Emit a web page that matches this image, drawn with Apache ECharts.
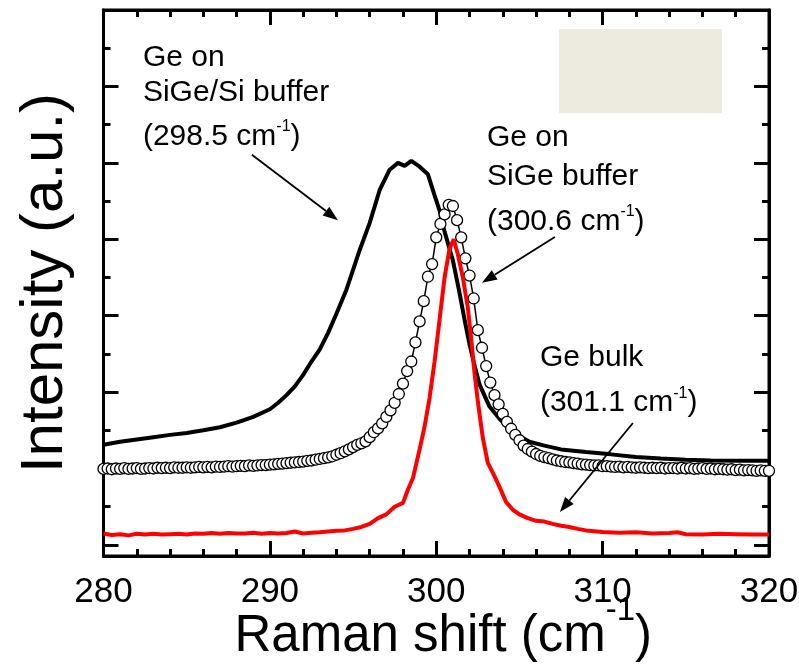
<!DOCTYPE html>
<html><head><meta charset="utf-8">
<script src="https://cdn.jsdelivr.net/npm/echarts@6/dist/echarts.min.js"></script>
<style>html,body{margin:0;padding:0;background:#fff}#c{width:799px;height:669px}</style>
</head><body><div id="c"></div>
<script>
// ---------- data ----------
const xTickLabels = ['280', '290', '300', '310', '320'];
const xMajorTicks = [280, 290, 300, 310, 320];
const yMajorTicks = [0, 2, 4, 6, 8, 10, 12, 14];
const yMinorTicks = [1, 3, 5, 7, 9, 11, 13];

// Ge on SiGe/Si buffer (black line)
const blackShift = [280,281,282,283,284,285,286,287,288,289,290,290.5,291,291.5,292,292.5,293,293.5,294,294.6,295,295.4,296,296.6,297.2,297.7,298.1,298.5,299,299.5,299.9,300.2,300.5,301,301.35,301.7,302,302.3,302.6,303.2,303.8,304.6,305.6,306.5,307.5,309,310.5,312,313.5,315,316.5,318,320];
const blackIntensity = [2.62,2.70,2.76,2.82,2.88,2.93,3.00,3.08,3.20,3.35,3.55,3.72,3.92,4.15,4.45,4.80,5.12,5.55,6.05,6.68,7.20,7.72,8.43,9.29,9.82,10.0,9.92,10.05,9.90,9.70,9.15,8.75,8.20,7.45,6.70,5.90,5.25,4.70,4.20,3.62,3.30,2.95,2.70,2.60,2.50,2.43,2.37,2.30,2.26,2.23,2.21,2.20,2.20];

// Ge on SiGe buffer (open circles)
const circleShift = [280.00,280.25,280.50,280.75,281.00,281.25,281.50,281.75,282.00,282.25,282.50,282.75,283.00,283.25,283.50,283.75,284.00,284.25,284.50,284.75,285.00,285.25,285.50,285.75,286.00,286.25,286.50,286.75,287.00,287.25,287.50,287.75,288.00,288.25,288.50,288.75,289.00,289.25,289.50,289.75,290.00,290.25,290.50,290.75,291.00,291.25,291.50,291.75,292.00,292.25,292.50,292.75,293.00,293.25,293.50,293.75,294.00,294.25,294.50,294.75,295.00,295.25,295.50,295.75,296.00,296.25,296.50,296.75,297.00,297.25,297.50,297.75,298.00,298.25,298.50,298.75,299.00,299.25,299.50,299.75,300.00,300.25,300.50,300.75,301.00,301.25,301.50,301.75,302.00,302.25,302.50,302.75,303.00,303.25,303.50,303.75,304.00,304.25,304.50,304.75,305.00,305.25,305.50,305.75,306.00,306.25,306.50,306.75,307.00,307.25,307.50,307.75,308.00,308.25,308.50,308.75,309.00,309.25,309.50,309.75,310.00,310.25,310.50,310.75,311.00,311.25,311.50,311.75,312.00,312.25,312.50,312.75,313.00,313.25,313.50,313.75,314.00,314.25,314.50,314.75,315.00,315.25,315.50,315.75,316.00,316.25,316.50,316.75,317.00,317.25,317.50,317.75,318.00,318.25,318.50,318.75,319.00,319.25,319.50,319.75,320.00];
const circleIntensity = [1.99,2.00,1.98,2.00,1.99,2.01,1.99,2.00,2.01,1.99,2.00,2.01,2.00,2.02,2.01,2.02,2.01,2.03,2.02,2.02,2.03,2.02,2.03,2.04,2.03,2.04,2.03,2.05,2.04,2.05,2.06,2.05,2.06,2.07,2.06,2.08,2.07,2.08,2.09,2.09,2.10,2.11,2.12,2.13,2.14,2.15,2.16,2.17,2.18,2.20,2.21,2.23,2.25,2.27,2.29,2.32,2.36,2.40,2.45,2.50,2.56,2.62,2.66,2.71,2.82,2.95,3.05,3.18,3.35,3.52,3.72,3.95,4.22,4.55,4.80,5.30,5.85,6.38,7.02,7.35,8.05,8.40,8.65,8.90,8.87,8.50,8.05,7.50,7.05,6.45,5.62,5.16,4.68,4.25,3.92,3.68,3.43,3.22,3.04,2.88,2.74,2.60,2.51,2.44,2.38,2.33,2.30,2.27,2.24,2.21,2.19,2.17,2.16,2.14,2.13,2.11,2.10,2.09,2.08,2.08,2.06,2.06,2.05,2.04,2.05,2.03,2.04,2.03,2.02,2.03,2.02,2.01,2.02,2.01,2.02,2.00,2.01,2.01,2.00,2.02,2.00,2.01,1.99,2.00,2.01,1.99,2.00,1.98,1.99,1.98,1.97,1.98,1.96,1.97,1.95,1.96,1.95,1.94,1.95,1.94,1.94];

// Ge bulk (red line)
const redShift = [280,280.5,281,281.5,282,282.5,283,283.5,284,284.5,285,285.5,286,286.5,287,287.5,288,288.5,289,289.5,290,290.5,291,291.5,292,292.5,293,293.5,294,294.5,295,295.5,296,296.5,297,297.5,298,298.3,298.6,299,299.3,299.6,299.9,300.2,300.5,300.8,301.05,301.3,301.6,301.9,302.1,302.3,302.5,302.8,303.1,303.5,303.8,304.2,304.6,305,305.5,306,306.5,307,307.5,308,308.5,309,309.5,310,311,312,313,314,314.5,315,316,317,318,319,320];
const redIntensity = [0.30,0.26,0.28,0.25,0.29,0.27,0.29,0.27,0.28,0.29,0.27,0.30,0.29,0.31,0.29,0.31,0.30,0.30,0.32,0.29,0.31,0.30,0.31,0.35,0.30,0.32,0.33,0.35,0.37,0.38,0.42,0.47,0.55,0.70,0.80,1.00,1.10,1.45,1.75,2.50,3.10,3.85,4.80,5.90,7.00,7.75,8.00,7.60,7.00,6.20,5.40,4.50,3.75,2.80,2.15,1.80,1.52,1.12,0.92,0.80,0.70,0.63,0.61,0.55,0.50,0.47,0.42,0.38,0.36,0.34,0.32,0.33,0.30,0.31,0.33,0.28,0.27,0.29,0.28,0.27,0.27];

// annotations (data coordinates)
const noteText = ['{n|Ge on}', '{n|SiGe/Si buffer}', '{n|(298.5 cm}{s|-1}{n|)}',
                  '{n|Ge on}', '{n|SiGe buffer}', '{n|(300.6 cm}{s|-1}{n|)}',
                  '{n|Ge bulk}', '{n|(301.1 cm}{s|-1}{n|)}'];
const noteShift = [282.37, 282.37, 282.37, 303.05, 303.05, 303.05, 306.23, 306.23];
const noteIntensity = [12.74, 11.83, 10.68, 10.65, 9.63, 8.45, 4.89, 3.71];
const arrowFromShift = [288.92, 307.13, 311.82];
const arrowFromIntensity = [10.21, 8.06, 3.19];
const arrowToShift = [294.09, 302.75, 307.43];
const arrowToIntensity = [8.50, 6.86, 0.86];
const boxShift = [307.37, 317.17];
const boxIntensity = [13.50, 11.30];

// ---------- chart ----------
const FONT = "'Liberation Sans', Arial, Helvetica, sans-serif";
const zip = (a, b) => a.map((v, i) => [v, b[i]]);

function xAxisDef(pos, showLabel) {
  return {
    type: 'value', position: pos, min: 280, max: 320, interval: 10,
    nameMoveOverlap: false,
    axisLine: { show: true, onZero: false, lineStyle: { color: '#000', width: 3 } },
    axisTick: { show: true, inside: true, length: 15, lineStyle: { color: '#000', width: 3 } },
    minorTick: { show: true, splitNumber: 5, length: 7, lineStyle: { color: '#000', width: 3 } },
    splitLine: { show: false }, minorSplitLine: { show: false },
    axisLabel: {
      show: showLabel, fontSize: 35, color: '#000', fontFamily: FONT, margin: 19,
      formatter: v => { const i = xMajorTicks.indexOf(v); return i >= 0 ? xTickLabels[i] : ''; }
    }
  };
}
function yAxisDef(pos, major, showLine) {
  return {
    type: 'value', position: pos, min: -0.29, max: 14, interval: major ? 2 : 1,
    nameMoveOverlap: false,
    axisLine: { show: showLine, onZero: false, lineStyle: { color: '#000', width: 3 } },
    axisTick: { show: true, inside: true, length: major ? 15 : 7, customValues: major ? yMajorTicks : yMinorTicks,
                lineStyle: { color: '#000', width: 3 } },
    axisLabel: { show: false },
    splitLine: { show: false }
  };
}

const xb = xAxisDef('bottom', true);
xb.name = '{n|Raman shift (cm}{s|-1}{n|)}';
xb.nameLocation = 'middle';
xb.nameGap = 38.5;
xb.nameTextStyle = {
  color: '#000', fontFamily: FONT, padding: [0, 0, 0, 14],
  rich: {
    n: { fontSize: 51, lineHeight: 51, fontFamily: FONT, color: '#000' },
    s: { fontSize: 33, fontFamily: FONT, color: '#000', verticalAlign: 'top', padding: [0, 0, 52, 0] }
  }
};
const xt = xAxisDef('top', false);

const yl = yAxisDef('left', true, true);
yl.name = 'Intensity (a.u.)';
yl.nameLocation = 'middle';
yl.nameGap = 28;
yl.nameTextStyle = { fontSize: 60, color: '#000', fontFamily: FONT };

const option = {
  animation: false,
  backgroundColor: '#fff',
  grid: { left: 103.5, right: 30, top: 10, bottom: 113, containLabel: false, outerBoundsMode: 'none',
          show: true, borderColor: '#000', borderWidth: 3, backgroundColor: 'transparent' },
  xAxis: [xb, xt],
  yAxis: [yl, yAxisDef('left', false, false), yAxisDef('right', true, true), yAxisDef('right', false, false)],
  series: [
    { name: 'Ge on SiGe/Si buffer', type: 'line', data: zip(blackShift, blackIntensity), showSymbol: false,
      lineStyle: { color: '#000', width: 4 }, z: 2 },
    { name: 'Ge on SiGe buffer', type: 'line', data: zip(circleShift, circleIntensity), symbol: 'circle', symbolSize: 11,
      showSymbol: true, showAllSymbol: true, lineStyle: { color: '#000', width: 1.5 },
      itemStyle: { color: '#fff', borderColor: '#000', borderWidth: 1.3 }, z: 3 },
    { name: 'Ge bulk', type: 'line', data: zip(redShift, redIntensity), showSymbol: false,
      lineStyle: { color: '#ff0000', width: 4 }, z: 4 }
  ]
};

const chart = echarts.init(document.getElementById('c'));
chart.setOption(option);

const px = p => chart.convertToPixel({ xAxisIndex: 0, yAxisIndex: 0 }, p);
const elements = [];
const b0 = px([boxShift[0], boxIntensity[0]]), b1 = px([boxShift[1], boxIntensity[1]]);
elements.push({ type: 'rect', shape: { x: b0[0], y: b0[1], width: b1[0] - b0[0], height: b1[1] - b0[1] },
  style: { fill: '#EDEAE0' }, z: 1 });
noteText.forEach((t, i) => {
  const p = px([noteShift[i], noteIntensity[i]]);
  elements.push({ type: 'text', x: p[0], y: p[1], z: 10,
    style: { text: t, fill: '#000', align: 'left', verticalAlign: 'middle', textAlign: 'left', textVerticalAlign: 'middle',
      rich: {
        n: { fontSize: 30, lineHeight: 30, fontFamily: FONT, fill: '#000', color: '#000' },
        s: { fontSize: 16, fontFamily: FONT, fill: '#000', color: '#000', verticalAlign: 'top', padding: [0, 0, 20, 0] }
      } } });
});
arrowFromShift.forEach((s, i) => {
  const a = px([s, arrowFromIntensity[i]]);
  const b = px([arrowToShift[i], arrowToIntensity[i]]);
  const dx = b[0] - a[0], dy = b[1] - a[1], L = Math.hypot(dx, dy);
  const ux = dx / L, uy = dy / L, hl = 15, hw = 5.5;
  const bx = b[0] - ux * hl, by = b[1] - uy * hl;
  elements.push({ type: 'line', z: 10, shape: { x1: a[0], y1: a[1], x2: bx, y2: by }, style: { stroke: '#000', lineWidth: 1.8 } });
  elements.push({ type: 'polygon', z: 10, shape: { points: [[b[0], b[1]], [bx - uy * hw, by + ux * hw], [bx + uy * hw, by - ux * hw]] },
    style: { fill: '#000' } });
});
chart.setOption({ graphic: { elements } });
</script>
</body></html>
